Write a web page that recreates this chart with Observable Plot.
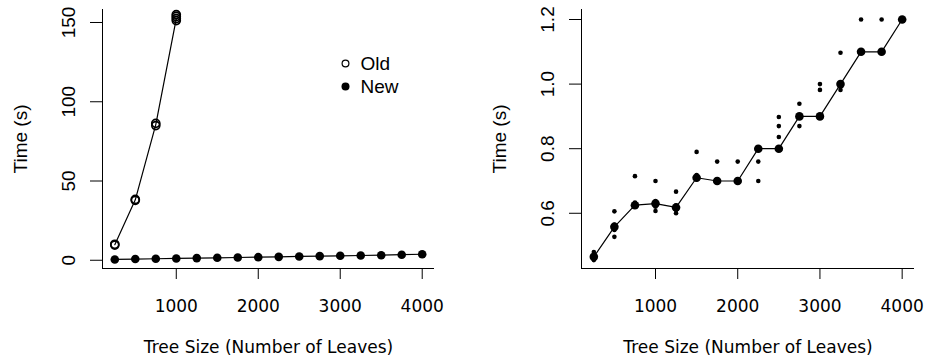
<!DOCTYPE html>
<html>
<head>
<meta charset="utf-8">
<script src="https://cdn.jsdelivr.net/npm/d3@7"></script>
<script src="https://cdn.jsdelivr.net/npm/@observablehq/plot@0.6"></script>
<style>
  html, body { margin: 0; padding: 0; background: #fff; }
  #wrap { display: flex; width: 926px; height: 360px; }
  svg { display: block; }
</style>
</head>
<body>
<div id="wrap"></div>
<script>
// ---- data ----
const sizes = [250, 500, 750, 1000, 1250, 1500, 1750, 2000, 2250, 2500, 2750, 3000, 3250, 3500, 3750, 4000];
const oldSizes = [250, 500, 750, 1000];
const oldMedian = [9.8, 38.1, 85.6, 152.5];
const oldReps = [[9.6, 10.1], [37.8, 38.4], [85.0, 86.4], [151.2, 152.5, 153.8, 155.0]];
const newLeft = [0.5, 0.75, 0.95, 1.15, 1.35, 1.55, 1.75, 1.95, 2.15, 2.4, 2.6, 2.8, 3.0, 3.2, 3.5, 3.8];
const newMedian = [0.465, 0.558, 0.625, 0.63, 0.618, 0.71, 0.70, 0.70, 0.80, 0.80, 0.90, 0.90, 1.00, 1.10, 1.10, 1.20];
const newReps = [
  [0.455, 0.46, 0.47, 0.48],
  [0.606, 0.527, 0.548, 0.565],
  [0.715, 0.62, 0.633],
  [0.70, 0.607, 0.62, 0.638],
  [0.667, 0.60, 0.61, 0.625],
  [0.79, 0.705, 0.718],
  [0.76, 0.70],
  [0.76, 0.70],
  [0.76, 0.70, 0.80],
  [0.898, 0.87, 0.836],
  [0.939, 0.87],
  [1.0, 0.982],
  [1.097, 0.982],
  [1.2],
  [1.2],
  [1.2]
];
const xTicks = [1000, 2000, 3000, 4000];
const leftYTicks = [0, 50, 100, 150];
const leftYLabels = ["0", "50", "100", "150"];
const rightYTicks = [0.6, 0.8, 1.0, 1.2];
const rightYLabels = ["0.6", "0.8", "1.0", "1.2"];
const legendLabels = ["Old", "New"];
const xTitle = "Tree Size (Number of Leaves)";
const yTitle = "Time (s)";

// ---- tables ----
const oldPts = oldSizes.flatMap((s, i) => oldReps[i].map(v => ({size: s, time: v})));
const oldLine = oldSizes.map((s, i) => ({size: s, time: oldMedian[i]}));
const newLeftPts = sizes.map((s, i) => ({size: s, time: newLeft[i]}));
const medPts = sizes.map((s, i) => ({size: s, time: newMedian[i]}));
const repPts = sizes.flatMap((s, i) => newReps[i].map(v => ({size: s, time: v})));

const XFONT = "DejaVu Sans";
const YFONT = "Liberation Sans, Arial, Helvetica, sans-serif";
const xDomain = [100, 4150];

function commonMarks(yDomain, yTicks, yLabels) {
  return [
    Plot.ruleX([xDomain[0]], {stroke: "#000"}),
    Plot.ruleY([yDomain[0]], {stroke: "#000"}),
    Plot.axisX({ticks: xTicks, tickSize: 11, tickFormat: () => "", label: null, stroke: "#000"}),
    Plot.axisY({ticks: yTicks, tickSize: 12, tickFormat: () => "", label: null, stroke: "#000"}),
    Plot.text(xTicks, {x: d => d, frameAnchor: "bottom", dy: 38, text: d => String(d),
      textAnchor: "middle", lineAnchor: "middle",
      fontSize: 17, fontFamily: XFONT, fill: "#000"}),
    Plot.text([xTitle], {frameAnchor: "bottom", dy: 79, text: d => d,
      textAnchor: "middle", lineAnchor: "middle",
      fontSize: 17, fontFamily: XFONT, fill: "#000"}),
    Plot.text(yTicks, {y: d => d, frameAnchor: "left", dx: -34, rotate: -90,
      textAnchor: "middle", lineAnchor: "middle",
      text: (d, i) => yLabels[i], fontSize: 19, fontFamily: YFONT, fill: "#000"}),
    Plot.text([yTitle], {frameAnchor: "left", dx: -82, rotate: -90, text: d => d,
      textAnchor: "middle", lineAnchor: "middle",
      fontSize: 19, fontFamily: YFONT, fill: "#000"})
  ];
}

const leftY = [-5.2, 158.2];
const left = Plot.plot({
  width: 470, height: 360,
  marginLeft: 102, marginRight: 36, marginTop: 9, marginBottom: 92,
  x: {domain: xDomain, axis: null},
  y: {domain: leftY, axis: null},
  marks: [
    ...commonMarks(leftY, leftYTicks, leftYLabels),
    Plot.line(oldLine, {x: "size", y: "time", stroke: "#000", strokeWidth: 1.2}),
    Plot.dot(oldPts, {x: "size", y: "time", r: 4, fill: "none", stroke: "#000", strokeWidth: 1.7}),
    Plot.line(newLeftPts, {x: "size", y: "time", stroke: "#000", strokeWidth: 1.2}),
    Plot.dot(newLeftPts, {x: "size", y: "time", r: 4.3, fill: "#000", stroke: "none"}),
    // legend
    Plot.dot([legendLabels[0]], {frameAnchor: "top-left", dx: 243, dy: 54, r: 3.4, fill: "none", stroke: "#000", strokeWidth: 1.2}),
    Plot.dot([legendLabels[1]], {frameAnchor: "top-left", dx: 243, dy: 77, r: 4, fill: "#000", stroke: "none"}),
    Plot.text([legendLabels[0]], {frameAnchor: "top-left", dx: 258, dy: 54, text: d => d,
      textAnchor: "start", lineAnchor: "middle", fontSize: 19, fontFamily: YFONT, fill: "#000"}),
    Plot.text([legendLabels[1]], {frameAnchor: "top-left", dx: 258, dy: 77, text: d => d,
      textAnchor: "start", lineAnchor: "middle", fontSize: 19, fontFamily: YFONT, fill: "#000"})
  ]
});

const rightY = [0.429, 1.231];
const right = Plot.plot({
  width: 456, height: 360,
  marginLeft: 111, marginRight: 12, marginTop: 9, marginBottom: 92,
  x: {domain: xDomain, axis: null},
  y: {domain: rightY, axis: null},
  marks: [
    ...commonMarks(rightY, rightYTicks, rightYLabels),
    Plot.line(medPts, {x: "size", y: "time", stroke: "#000", strokeWidth: 1.2}),
    Plot.dot(repPts, {x: "size", y: "time", r: 2.3, fill: "#000", stroke: "none"}),
    Plot.dot(medPts, {x: "size", y: "time", r: 4.3, fill: "#000", stroke: "none"})
  ]
});

document.getElementById("wrap").append(left, right);
</script>
</body>
</html>
